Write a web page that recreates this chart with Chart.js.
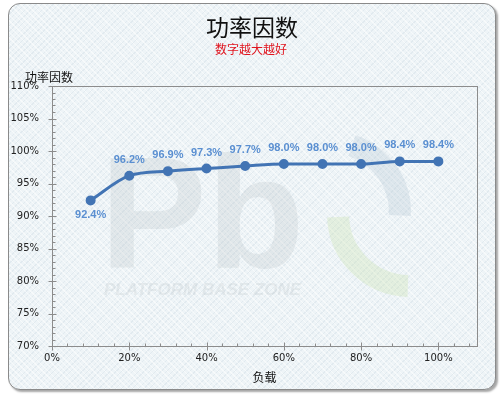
<!DOCTYPE html>
<html>
<head>
<meta charset="utf-8">
<script src="https://cdn.jsdelivr.net/npm/chart.js@4.4.1/dist/chart.umd.min.js"></script>
<style>
  html, body { margin: 0; padding: 0; background: #fff; }
  #wrap { position: relative; width: 500px; height: 399px; }
  #card {
    position: absolute; left: 8px; top: 3px; width: 486px; height: 385px;
    border: 1px solid #8a8a8a; border-radius: 12px;
    box-shadow: 2px 2px 2px rgba(0,0,0,0.35);
    background-color: #eef4f7;
    background-image: repeating-linear-gradient(45deg, rgba(255,255,255,0.55) 0 1px, transparent 1px 4px),
                      repeating-linear-gradient(-45deg, rgba(210,222,230,0.45) 0 1px, transparent 1px 4px);
  }
  #c { position: absolute; left: 0; top: 0; }
</style>
</head>
<body>
<div id="wrap">
  <div id="card"></div>
  <canvas id="c" width="500" height="399"></canvas>
</div>
<script>
// data
var loads = [10, 20, 30, 40, 50, 60, 70, 80, 90, 100];
var powerFactor = [92.4, 96.2, 96.9, 97.3, 97.7, 98.0, 98.0, 98.0, 98.4, 98.4];
var xTicks = [0, 20, 40, 60, 80, 100];
var yTicks = [70, 75, 80, 85, 90, 95, 100, 105, 110];

var chartTitle = '功率因数';
var chartSubtitle = '数字越大越好';
var yTitle = '功率因数';
var xTitle = '负载';

var points = loads.map(function (x, i) { return { x: x, y: powerFactor[i] }; });

// background logo, plot frame, titles
var decor = {
  id: 'decor',
  beforeDatasetsDraw: function (chart) {
    var ctx = chart.ctx;
    ctx.save();
    ctx.fillStyle = 'rgba(185,192,198,0.26)';
    ctx.font = 'bold 160px "Liberation Sans"';
    ctx.textBaseline = 'alphabetic';
    ctx.fillText('Pb', 100, 268);
    ctx.font = 'italic bold 17px "Liberation Sans"';
    ctx.fillText('PLATFORM BASE ZONE', 104, 295);
    ctx.strokeStyle = 'rgba(175,195,210,0.28)';
    ctx.lineWidth = 22;
    ctx.beginPath();
    ctx.arc(330, 212, 70, -1.25, 0.05);
    ctx.stroke();
    ctx.strokeStyle = 'rgba(200,225,170,0.3)';
    ctx.beginPath();
    ctx.arc(410, 214, 72, 1.6, 3.1);
    ctx.stroke();
    ctx.restore();
  },
  afterDraw: function (chart) {
    var ctx = chart.ctx, a = chart.chartArea;
    var xs = chart.scales.x, ys = chart.scales.y;
    ctx.save();
    ctx.strokeStyle = '#8c8c8c';
    ctx.lineWidth = 1;
    ctx.strokeRect(Math.round(a.left) + 0.5, Math.round(a.top) + 0.5,
      Math.round(a.right - a.left), Math.round(a.bottom - a.top));
    // y ticks
    var x0 = Math.round(a.left) + 0.5;
    for (var v = 70; v <= 110; v += 1) {
      var py = Math.round(ys.getPixelForValue(v)) + 0.5;
      ctx.beginPath();
      if (v % 5 === 0) { ctx.moveTo(x0 - 4, py); ctx.lineTo(x0 + 4, py); }
      else { ctx.moveTo(x0, py); ctx.lineTo(x0 + 3, py); }
      ctx.stroke();
    }
    // x ticks
    var y0 = Math.round(a.bottom) + 0.5;
    for (var u = 0; u <= 108; u += 4) {
      var px = Math.round(xs.getPixelForValue(u)) + 0.5;
      ctx.beginPath();
      if (u % 20 === 0) { ctx.moveTo(px, y0 - 4); ctx.lineTo(px, y0 + 4); }
      else { ctx.moveTo(px, y0 - 3); ctx.lineTo(px, y0); }
      ctx.stroke();
    }
    // titles
    ctx.fillStyle = '#111';
    ctx.textAlign = 'center';
    ctx.textBaseline = 'middle';
    ctx.font = '23px "Noto Sans CJK SC"';
    ctx.fillText(chartTitle, 252, 27);
    ctx.fillStyle = '#e0141e';
    ctx.font = '12px "Noto Sans CJK SC"';
    ctx.fillText(chartSubtitle, 251, 49);
    ctx.fillStyle = '#111';
    ctx.textAlign = 'left';
    ctx.font = '12px "Noto Sans CJK SC"';
    ctx.fillText(yTitle, 25, 77);
    // value labels
    var meta = chart.getDatasetMeta(0);
    ctx.fillStyle = '#5a8fd1';
    ctx.textAlign = 'center';
    ctx.font = 'bold 11px "Liberation Sans"';
    meta.data.forEach(function (pt, i) {
      var dy = i === 0 ? 15 : -16;
      ctx.fillText(powerFactor[i].toFixed(1) + '%', pt.x, pt.y + dy);
    });
    ctx.restore();
  }
};

new Chart(document.getElementById('c'), {
  type: 'line',
  data: {
    datasets: [{
      data: points,
      borderColor: '#4274b4',
      backgroundColor: '#4274b4',
      borderWidth: 3,
      pointRadius: 3.5,
      pointHoverRadius: 3.5,
      tension: 0.4,
      cubicInterpolationMode: 'monotone',
      fill: false
    }]
  },
  options: {
    responsive: false,
    animation: false,
    events: [],
    layout: { padding: { top: 86, right: 23, bottom: 0, left: 0 } },
    plugins: {
      legend: { display: false },
      tooltip: { enabled: false },
      title: { display: false }
    },
    scales: {
      x: {
        type: 'linear',
        min: 0,
        max: 110,
        afterBuildTicks: function (s) { s.ticks = xTicks.map(function (v) { return { value: v }; }); },
        afterFit: function (s) { s.height = 53; },
        ticks: {
          padding: 6,
          color: '#222',
          font: { family: 'DejaVu Sans', size: 10 },
          callback: function (v) { return v + '%'; }
        },
        grid: { display: false, drawTicks: false },
        border: { display: false },
        title: {
          display: true,
          text: xTitle,
          color: '#111',
          font: { family: 'Noto Sans CJK SC', size: 12 },
          padding: { top: 0, bottom: 14 }
        }
      },
      y: {
        min: 70,
        max: 110,
        afterBuildTicks: function (s) { s.ticks = yTicks.map(function (v) { return { value: v }; }); },
        afterFit: function (s) { s.width = 52; },
        ticks: {
          padding: 13,
          color: '#222',
          font: { family: 'DejaVu Sans', size: 10 },
          callback: function (v) { return v + '%'; }
        },
        grid: { display: false, drawTicks: false },
        border: { display: false }
      }
    }
  },
  plugins: [decor]
});
</script>
</body>
</html>
